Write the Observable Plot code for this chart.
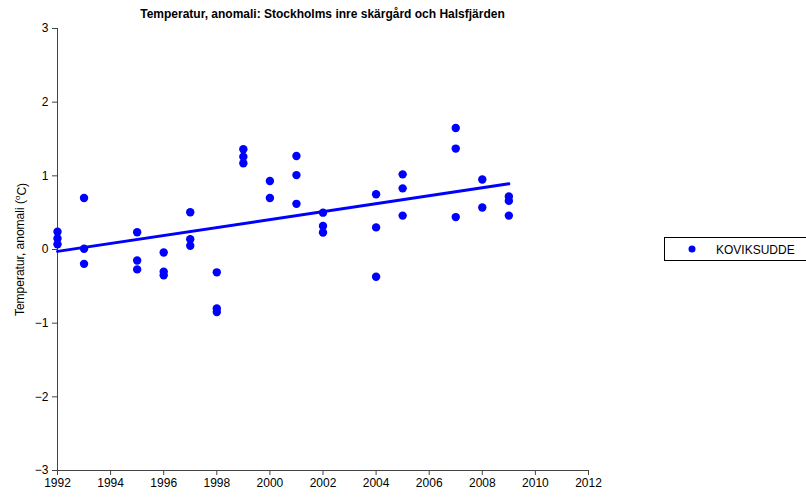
<!DOCTYPE html>
<html>
<head>
<meta charset="utf-8">
<script src="https://cdn.jsdelivr.net/npm/d3@7"></script>
<script src="https://cdn.jsdelivr.net/npm/@observablehq/plot@0.6"></script>
<style>
body { margin: 0; background: #fff; }
#chart svg { font-family: "Liberation Sans", Arial, sans-serif; }
</style>
</head>
<body>
<div id="chart"></div>
<script>
const title = "Temperatur, anomali: Stockholms inre skärgård och Halsfjärden";
const seriesName = "KOVIKSUDDE";
const years = [1992,1992,1992, 1993,1993,1993, 1995,1995,1995, 1996,1996,1996, 1997,1997,1997, 1998,1998,1998, 1999,1999,1999, 2000,2000, 2001,2001,2001, 2002,2002,2002, 2004,2004,2004, 2005,2005,2005, 2007,2007,2007, 2008,2008, 2009,2009,2009];
const anomalies = [0.24,0.15,0.07, 0.70,0.01,-0.195, 0.235,-0.15,-0.27, -0.04,-0.30,-0.35, 0.505,0.14,0.05, -0.31,-0.80,-0.85, 1.36,1.26,1.17, 0.93,0.70, 1.27,1.01,0.62, 0.50,0.32,0.23, 0.75,0.30,-0.37, 1.02,0.83,0.46, 1.65,1.37,0.44, 0.95,0.57, 0.72,0.66,0.46];
const xTicks = [1992,1994,1996,1998,2000,2002,2004,2006,2008,2010,2012];
const yTicks = [-3,-2,-1,0,1,2,3];

const data = years.map((y, i) => ({year: y, value: anomalies[i]}));
const blue = "#0000ff";

const chart = Plot.plot({
  width: 806,
  height: 499,
  marginLeft: 57,
  marginRight: 218,
  marginTop: 28,
  marginBottom: 29,
  style: {fontSize: "12px", fontFamily: "Liberation Sans, Arial, sans-serif", color: "#000", background: "#fff"},
  x: {domain: [1992, 2012]},
  y: {domain: [-3, 3]},
  marks: [
    Plot.ruleX([1992], {stroke: "#444", strokeWidth: 1}),
    Plot.ruleY([-3], {stroke: "#444", strokeWidth: 1}),
    Plot.axisX({ticks: xTicks, tickFormat: d => String(d), tickSize: 5, tickPadding: 3, label: null, stroke: "#444", fontSize: 12}),
    Plot.axisY({ticks: yTicks, tickFormat: d => d < 0 ? "\u2212" + Math.abs(d) : String(d), tickSize: 5, tickPadding: 4, stroke: "#444", fontSize: 12,
      label: "Temperatur, anomali (oC)", labelAnchor: "center", labelArrow: "none", labelOffset: 42}),
    Plot.dot(data, {x: "year", y: "value", r: 4.2, fill: blue, stroke: "none"}),
    Plot.linearRegressionY(data, {x: "year", y: "value", stroke: blue, strokeWidth: 3, ci: 0})
  ]
});

document.getElementById("chart").appendChild(chart);

const svg = d3.select(chart);
// superscript o in y label
svg.selectAll("text").each(function() {
  const t = d3.select(this);
  if (t.text() === "Temperatur, anomali (oC)") {
    t.text(null);
    t.append("tspan").text("Temperatur, anomali (");
    t.append("tspan").attr("dy", "-0.45em").attr("font-size", "8px").text("o");
    t.append("tspan").attr("dy", "0.45em").text("C)");
  }
});

// title
svg.append("text")
  .attr("x", (57 + 588) / 2).attr("y", 18)
  .attr("text-anchor", "middle")
  .attr("font-weight", "bold").attr("font-size", 12)
  .attr("fill", "#000")
  .text(title);

// legend
const lg = svg.append("g");
lg.append("rect").attr("x", 664.5).attr("y", 237.5).attr("width", 160).attr("height", 23)
  .attr("fill", "#fff").attr("stroke", "#000").attr("stroke-width", 1);
lg.append("circle").attr("cx", 692).attr("cy", 249).attr("r", 3.5).attr("fill", blue);
lg.append("text").attr("x", 716).attr("y", 253.5).attr("text-anchor", "start")
  .attr("font-size", 12).attr("fill", "#000").text(seriesName);
</script>
</body>
</html>
